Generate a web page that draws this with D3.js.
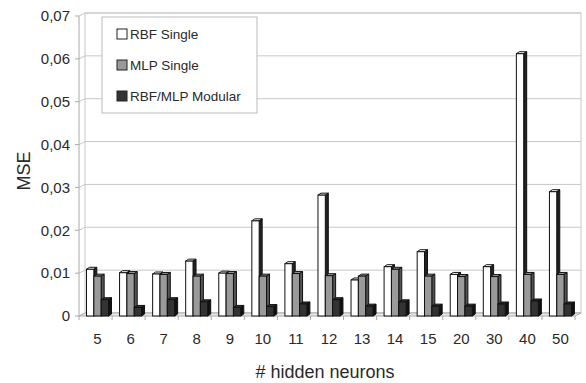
<!DOCTYPE html>
<html lang="en">
  <head>
    <meta charset='utf-8'>
    <script src='https://d3js.org/d3.v7.min.js'></script>
    <title>MSE vs hidden neurons</title>
    <style>
      body { margin: 0px; background: #fff; }
      text { font-family: 'Liberation Sans', Arial, sans-serif; fill: #2a2a2a; }
      .tick-label { font-size: 15px; }
      .axis-label { font-size: 18px; }
      .legend-label { font-size: 13.5px; }
    </style>
  </head>
  <body>
    <svg id='chart' width='586' height='383'></svg>
    <script>
      // data
      const categories = ['5','6','7','8','9','10','11','12','13','14','15','20','30','40','50'];
      const seriesNames = ['RBF Single', 'MLP Single', 'RBF/MLP Modular'];
      const rbfSingle = [0.0109, 0.0101, 0.0098, 0.0128, 0.0100, 0.0222, 0.0122, 0.0282, 0.0084, 0.0115, 0.0150, 0.0097, 0.0115, 0.0612, 0.0290];
      const mlpSingle = [0.0093, 0.0099, 0.0097, 0.0093, 0.0099, 0.0093, 0.0099, 0.0094, 0.0093, 0.0109, 0.0093, 0.0092, 0.0092, 0.0097, 0.0097];
      const modular   = [0.0038, 0.0020, 0.0038, 0.0033, 0.0020, 0.0022, 0.0028, 0.0038, 0.0023, 0.0033, 0.0023, 0.0023, 0.0028, 0.0035, 0.0028];
      const yTicks = [0, 0.01, 0.02, 0.03, 0.04, 0.05, 0.06, 0.07];

      const fills = ['#ffffff', '#9a9a9a', '#333333'];
      const sides = ['#222222', '#555555', '#111111'];

      const svg = d3.select('#chart');
      const fmt = d3.formatLocale({decimal: ',', thousands: '.', grouping: [3], currency: ['', '']}).format('.2f');

      const wall = {dx: 6, dy: -3};   // depth of the back wall
      const bar = {dx: 3, dy: -2};    // depth of each bar

      const x = d3.scaleBand().domain(categories).range([79, 575]);
      const xs = d3.scaleBand().domain(seriesNames).range([7.5, 29.5]);
      const y = d3.scaleLinear().domain([0, 0.07]).range([316, 16]);

      const g = svg.append('g');

      // back wall and floor
      const [x0, x1] = x.range();
      g.append('rect')
        .attr('x', x0 + wall.dx).attr('y', y(0.07) + wall.dy)
        .attr('width', x1 - x0).attr('height', y(0) - y(0.07))
        .attr('fill', 'none').attr('stroke', '#c8c8c8');

      g.selectAll('.grid').data(yTicks).enter().append('line')
        .attr('x1', x0 + wall.dx).attr('x2', x1 + wall.dx)
        .attr('y1', d => y(d) + wall.dy).attr('y2', d => y(d) + wall.dy)
        .attr('stroke', '#c8c8c8');

      // left side wall
      g.selectAll('.side').data(yTicks).enter().append('line')
        .attr('x1', x0).attr('x2', x0 + wall.dx)
        .attr('y1', d => y(d)).attr('y2', d => y(d) + wall.dy)
        .attr('stroke', '#c8c8c8');
      g.append('line')
        .attr('x1', x0).attr('x2', x0).attr('y1', y(0)).attr('y2', y(0.07))
        .attr('stroke', '#aaa');

      // floor
      g.append('path')
        .attr('d', `M${x0},${y(0)}L${x1},${y(0)}L${x1 + wall.dx},${y(0) + wall.dy}L${x0 + wall.dx},${y(0) + wall.dy}Z`)
        .attr('fill', '#e8e8e8').attr('stroke', '#aaa');

      // y ticks
      g.selectAll('.ytick').data(yTicks).enter().append('line')
        .attr('x1', x0 - 4).attr('x2', x0)
        .attr('y1', d => y(d)).attr('y2', d => y(d))
        .attr('stroke', '#aaa');
      g.selectAll('.ylabel').data(yTicks).enter().append('text')
        .attr('class', 'tick-label')
        .attr('x', 70).attr('y', d => y(d)).attr('dy', '0.35em')
        .attr('text-anchor', 'end')
        .text(d => d === 0 ? '0' : fmt(d));

      // x ticks
      g.selectAll('.xtick').data(categories.concat(['end'])).enter().append('line')
        .attr('x1', (d, i) => x0 + i * x.bandwidth()).attr('x2', (d, i) => x0 + i * x.bandwidth())
        .attr('y1', y(0)).attr('y2', y(0) + 4)
        .attr('stroke', '#aaa');
      g.selectAll('.xlabel').data(categories).enter().append('text')
        .attr('class', 'tick-label')
        .attr('x', d => x(d) + x.bandwidth() / 2 + 2).attr('y', 344)
        .attr('text-anchor', 'middle')
        .text(d => d);

      // bars
      const rows = categories.map((c, i) => [rbfSingle[i], mlpSingle[i], modular[i]]
        .map((v, k) => ({cat: c, name: seriesNames[k], k: k, v: v})));
      const flat = rows.flat();
      const w = xs.bandwidth();

      const bg = g.selectAll('.bar').data(flat).enter().append('g');
      // top face
      bg.append('path')
        .attr('d', d => {
          const bx = x(d.cat) + xs(d.name), by = y(d.v);
          return `M${bx},${by}L${bx + bar.dx},${by + bar.dy}L${bx + w + bar.dx},${by + bar.dy}L${bx + w},${by}Z`;
        })
        .attr('fill', d => fills[d.k]).attr('stroke', '#111').attr('stroke-width', 1);
      // side face
      bg.append('path')
        .attr('d', d => {
          const bx = x(d.cat) + xs(d.name) + w, by = y(d.v);
          return `M${bx},${by}L${bx + bar.dx},${by + bar.dy}L${bx + bar.dx},${y(0) + bar.dy}L${bx},${y(0)}Z`;
        })
        .attr('fill', d => sides[d.k]).attr('stroke', '#111').attr('stroke-width', 1);
      // front face
      bg.append('rect')
        .attr('x', d => x(d.cat) + xs(d.name)).attr('y', d => y(d.v))
        .attr('width', w).attr('height', d => y(0) - y(d.v))
        .attr('fill', d => fills[d.k]).attr('stroke', '#111').attr('stroke-width', 1);

      // axis titles
      svg.append('text').attr('class', 'axis-label')
        .attr('x', 325).attr('y', 378).attr('text-anchor', 'middle')
        .text('# hidden neurons');
      svg.append('text').attr('class', 'axis-label')
        .attr('transform', 'translate(30,171) rotate(-90)').attr('text-anchor', 'middle')
        .text('MSE');

      // legend
      const lg = svg.append('g');
      lg.append('rect')
        .attr('x', 102).attr('y', 17).attr('width', 155).attr('height', 96)
        .attr('fill', '#fff').attr('stroke', '#bbb');
      const items = lg.selectAll('.item').data(seriesNames).enter().append('g')
        .attr('transform', (d, i) => `translate(117,${34 + i * 31})`);
      items.append('rect')
        .attr('x', 0).attr('y', -5).attr('width', 10).attr('height', 10)
        .attr('fill', (d, i) => fills[i]).attr('stroke', '#222');
      items.append('text').attr('class', 'legend-label')
        .attr('x', 13).attr('y', 0).attr('dy', '0.35em')
        .text(d => d);
    </script>
  </body>
</html>
